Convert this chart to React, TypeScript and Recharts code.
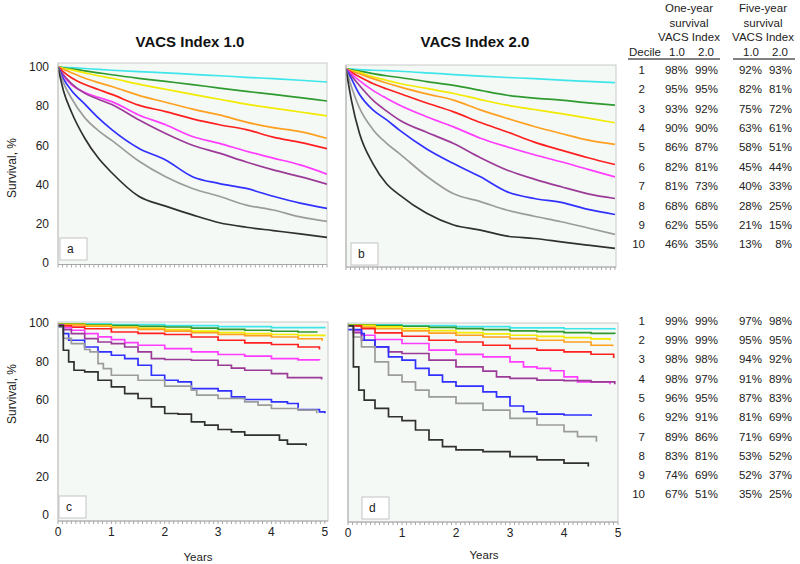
import React from 'react';
import { LineChart, Line, XAxis, YAxis } from 'recharts';

const FONT = '"Liberation Sans", Arial, Helvetica, sans-serif';

// Deciles and their curve colours (1 = lowest risk)
const deciles = [1, 2, 3, 4, 5, 6, 7, 8, 9, 10];
const decileColors = [
  '#3ee6ea', '#2f9a2f', '#f2ea00', '#ffa020', '#ff2020',
  '#ff3cff', '#9c3a98', '#3030ff', '#9c9c9c', '#303030',
];

const yearLabels = ['0', '1', '2', '3', '4', '5'];
const survivalTicks = [0, 20, 40, 60, 80, 100];

// Panel a / b: smooth curves, shared time grid (years)
const yearsAB = [0, 0.1, 0.25, 0.5, 0.75, 1, 1.5, 2, 2.5, 3, 3.5, 4, 4.5, 5];

const survivalA = [
  [100, 99.8, 99.6, 99.2, 98.7, 98.3, 97.6, 97, 96.2, 95.5, 94.7, 94, 93.2, 92.3],
  [100, 99.5, 99, 98, 97, 96, 94.2, 92.6, 91, 89.2, 87.5, 86, 84.3, 82.6],
  [100, 99.3, 98.5, 97, 95.5, 94.2, 91.2, 88.6, 86, 83.5, 81, 79, 77, 75],
  [100, 98.8, 97, 94.2, 92, 90, 85.5, 82, 78.5, 75.5, 71.8, 69, 67, 63.6],
  [100, 97.5, 94.5, 91, 88.5, 86, 80.5, 77.2, 73.5, 70.5, 68, 64.2, 61.5, 58.3],
  [100, 95.5, 91, 87, 84.5, 82.3, 75.5, 70.5, 64.5, 61, 57, 53.5, 50, 45.3],
  [100, 96, 91.5, 86.5, 83.5, 80.8, 73, 66, 60, 56, 51.5, 47.5, 44, 40.2],
  [100, 94, 88, 81, 74, 68, 58.5, 52.5, 44, 40.5, 38, 34, 30.5, 27.8],
  [100, 92, 84, 74, 67.5, 62.5, 52, 44, 38, 34, 29.5, 27, 23.5, 21.2],
  [100, 88, 77, 63.5, 53.5, 46, 34, 29, 24.5, 20.5, 18.2, 16.5, 14.8, 13],
];

const survivalB = [
  [100, 99.9, 99.7, 99.3, 99.1, 98.8, 98, 97.1, 96.3, 95.6, 95, 94.2, 93.6, 93],
  [100, 99.5, 98.9, 97.6, 96.5, 95.6, 93.5, 91.6, 89, 86.5, 85, 84, 82.6, 81.4],
  [100, 99.2, 98.2, 95.9, 94.2, 92.5, 90, 87.4, 84.3, 81.4, 79.2, 77.1, 74.8, 72.4],
  [100, 98.9, 97.5, 95, 92.8, 90.8, 87.2, 84, 79, 74.6, 70.5, 66.9, 63.5, 61.3],
  [100, 98.3, 96, 92.5, 89.8, 87.4, 82.5, 78, 72.5, 67.7, 62.5, 58.4, 54.5, 51],
  [100, 97.5, 94, 89, 85, 81.4, 75.5, 70.3, 64.5, 60, 56, 52.4, 48.5, 44.7],
  [100, 96.5, 91.5, 84, 78.5, 73.7, 67.5, 61.8, 54.5, 48.1, 43.5, 39.6, 36, 33.6],
  [100, 95, 87, 79, 74, 68.5, 59, 51.5, 44.7, 37, 33.6, 31.6, 28, 25.4],
  [100, 91, 80, 69, 62, 56.5, 45, 36, 32, 27.6, 24.5, 21.7, 18.5, 15.2],
  [100, 84, 67, 51.5, 41.3, 35.3, 26, 20, 17.4, 14.3, 13.1, 11.4, 9.7, 8],
];

// Panel c / d: Kaplan-Meier steps, each decile has its own event times
const yearsC = [
  [0, 1, 2, 3, 4, 5],
  [0, 0.5, 1, 1.5, 2, 2.5, 3, 3.5, 4, 4.5, 4.85],
  [0, 0.5, 1, 1.5, 2, 2.5, 3, 3.5, 4, 4.5, 5],
  [0, 0.5, 1, 1.5, 2, 2.5, 3, 3.5, 4, 4.5, 4.95],
  [0, 0.25, 0.5, 1, 1.5, 2, 2.5, 3, 3.5, 4, 4.5, 4.9],
  [0, 0.1, 0.25, 0.5, 0.75, 1, 1.25, 1.5, 2, 2.5, 3, 3.5, 4, 4.5, 4.9],
  [0, 0.1, 0.25, 0.5, 0.75, 1, 1.25, 1.5, 1.75, 2, 2.5, 3, 3.25, 3.5, 4, 4.3, 4.94],
  [0, 0.1, 0.2, 0.5, 0.75, 1, 1.25, 1.5, 1.75, 2, 2.25, 2.5, 3, 3.25, 3.5, 4, 4.3, 4.5, 4.9, 5],
  [0, 0.1, 0.25, 0.5, 0.6, 0.75, 0.85, 1, 1.5, 2, 2.5, 2.6, 3, 3.5, 3.75, 4, 4.5, 4.85],
  [0, 0.1, 0.2, 0.3, 0.5, 0.75, 1, 1.25, 1.5, 1.75, 2, 2.25, 2.5, 2.75, 3, 3.25, 3.5, 4.15, 4.3, 4.65],
];
const survivalC = [
  [99.6, 99.1, 98.6, 98.1, 97.6, 97.1],
  [99.5, 99, 98.6, 98.2, 97.9, 97.3, 96.7, 96.2, 95.7, 95.3, 95],
  [99.3, 98.6, 97.9, 97.2, 96.5, 95.8, 95, 94.5, 94, 93.5, 93.1],
  [99, 98.3, 97.6, 96.7, 95.8, 94.9, 94, 93.4, 92.7, 91.8, 90.7],
  [98.5, 97.8, 97, 95.3, 94.6, 94, 92.7, 91, 89.6, 88.8, 87.5, 86.2],
  [99, 97.5, 96.2, 94.5, 92.8, 91.3, 89.8, 88.4, 86.7, 85, 83.6, 82.7, 81.5, 80.8, 80.6],
  [99, 96.5, 94.5, 91.9, 90.1, 89.3, 87.5, 85, 81.5, 81, 80.6, 78, 76.5, 75.4, 73.7, 71.6, 70.6],
  [98, 94.5, 91, 87.5, 85, 83.2, 81.5, 78, 72.8, 70.2, 69.4, 65.9, 64.7, 61.6, 60.2, 59, 58.1, 55, 53.8, 53],
  [98, 92, 89.3, 86.2, 85, 78.9, 76.3, 72.8, 70.2, 67.1, 65, 62.5, 60.7, 59, 57.3, 55.5, 54.7, 53],
  [98.5, 85.8, 79.8, 75.4, 74.6, 70.2, 66.8, 63.3, 60.7, 56.4, 52.9, 52.6, 48.6, 46.9, 44.6, 43.4, 41.7, 39.1, 37, 36.2],
];

const yearsD = [
  [0, 1, 2, 3, 4, 4.94],
  [0, 0.5, 1, 1.5, 2, 2.5, 3, 3.5, 4, 4.5, 4.94],
  [0, 0.5, 1, 1.5, 2, 2.5, 3, 3.5, 4, 4.5, 4.85],
  [0, 0.25, 0.5, 1, 1.5, 2, 2.5, 3, 3.5, 4, 4.5, 4.9],
  [0, 0.25, 0.5, 1, 1.5, 2, 2.5, 3, 3.5, 4, 4.5, 4.92],
  [0, 0.1, 0.25, 0.5, 1, 1.5, 2, 2.5, 3, 3.25, 3.5, 3.75, 4, 4.25, 4.85],
  [0, 0.1, 0.25, 0.5, 0.75, 1, 1.5, 2, 2.5, 2.75, 3, 3.5, 4, 4.5, 4.94],
  [0, 0.25, 0.3, 0.5, 0.75, 1, 1.25, 1.5, 1.75, 2, 2.5, 2.75, 3, 3.25, 3.5, 4, 4.5],
  [0, 0.1, 0.25, 0.5, 0.75, 1, 1.25, 1.5, 2, 2.5, 3, 3.5, 4, 4.25, 4.6],
  [0, 0.1, 0.2, 0.3, 0.5, 0.75, 1, 1.25, 1.5, 1.75, 2, 2.5, 3, 3.5, 4, 4.45],
];
const survivalD = [
  [99.6, 99.1, 98.6, 98, 97.5, 97],
  [99.5, 99.2, 98.8, 98.2, 97.6, 97, 96.4, 96, 95.5, 95.1, 94.8],
  [99.3, 98.5, 97.6, 96.5, 95.5, 94.8, 94.1, 93.5, 92.9, 92.2, 91.5],
  [99, 98.3, 97.5, 96.4, 95.2, 94.1, 93.2, 92.4, 91.5, 90.6, 88.9, 88.4],
  [99, 97.6, 95.3, 93.6, 91.5, 90.6, 88.9, 87.2, 86.3, 85.4, 84.2, 82.3],
  [99, 96.5, 94.1, 91.9, 89.8, 86.3, 84.1, 82.8, 80.2, 77.6, 76.8, 75.6, 72.4, 69.8, 68.6],
  [99, 95.5, 91.5, 88, 85.4, 84.6, 81.1, 77.6, 75.4, 72.4, 71.6, 70.7, 70.4, 69.8, 68.6],
  [97, 95, 91.5, 88, 82.8, 81.1, 76.8, 73.3, 69.8, 67.6, 64.6, 62, 57.2, 54.2, 53, 52.5, 52],
  [99, 93.2, 88, 80.2, 73.3, 69.8, 65.5, 62, 58.6, 55.1, 50.8, 47.3, 43.8, 41.2, 38.6],
  [99, 77.6, 65.5, 60.3, 56, 51.6, 49.6, 44.7, 39.5, 36, 34.3, 33.4, 30.8, 29.1, 27.4, 25.6],
];

// Survival tables (%), top = panels a/b, bottom = panels c/d
const oneYearV1Top = [98, 95, 93, 90, 86, 82, 81, 68, 62, 46];
const oneYearV2Top = [99, 95, 92, 90, 87, 81, 73, 68, 55, 35];
const fiveYearV1Top = [92, 82, 75, 63, 58, 45, 40, 28, 21, 13];
const fiveYearV2Top = [93, 81, 72, 61, 51, 44, 33, 25, 15, 8];

const oneYearV1Bottom = [99, 99, 98, 98, 96, 92, 89, 83, 74, 67];
const oneYearV2Bottom = [99, 99, 98, 97, 95, 91, 86, 81, 69, 51];
const fiveYearV1Bottom = [97, 95, 94, 91, 87, 81, 71, 53, 52, 35];
const fiveYearV2Bottom = [98, 95, 92, 89, 83, 69, 69, 52, 37, 25];

const AXIS_W = 40;
const AXIS_H = 20;
const PAD = 8; // room above / right of the plot so edge labels are not clipped
const monthTicks = Array.from({ length: 61 }, (_, m) => m / 12);
const minorSurvivalTicks = Array.from({ length: 51 }, (_, k) => k * 2);

interface PanelSpec {
  letter: string;
  left: number;
  top: number;
  width: number;
  height: number;
  xDomain: [number, number];
  yDomain: [number, number];
  times: number[][];
  values: number[][];
  step: boolean;
  yLabels: boolean;
  xLabels: boolean;
  box: [number, number];
}

const panels: PanelSpec[] = [
  {
    letter: 'a', left: 58, top: 63, width: 269, height: 201.5,
    xDomain: [0, 5], yDomain: [-0.8, 102],
    times: deciles.map(() => yearsAB), values: survivalA,
    step: false, yLabels: true, xLabels: false, box: [60, 238],
  },
  {
    letter: 'b', left: 346, top: 65, width: 270, height: 202,
    xDomain: [0, 5.02], yDomain: [-1.5, 102],
    times: deciles.map(() => yearsAB), values: survivalB,
    step: false, yLabels: false, xLabels: false, box: [351, 243],
  },
  {
    letter: 'c', left: 58, top: 322, width: 270, height: 199,
    xDomain: [0, 5.06], yDomain: [-3, 100.5],
    times: yearsC, values: survivalC,
    step: true, yLabels: true, xLabels: true, box: [59, 496],
  },
  {
    letter: 'd', left: 348, top: 323, width: 270, height: 199,
    xDomain: [0, 5], yDomain: [-3.3, 100.5],
    times: yearsD, values: survivalD,
    step: true, yLabels: false, xLabels: true, box: [362, 497],
  },
];

const YearTick = (props: any) => {
  const { x, y, payload, show } = props;
  const v = payload.value;
  if (!show || !Number.isInteger(v)) return <g />;
  return (
    <text x={x} y={y} dy="0.71em" textAnchor="middle" fontSize={12} fontFamily={FONT} fill="#222">
      {yearLabels[v]}
    </text>
  );
};

const SurvivalPanel: React.FC<{ spec: PanelSpec }> = ({ spec }) => (
  <div style={{ position: 'absolute', left: spec.left - AXIS_W, top: spec.top - PAD }}>
    <LineChart
      width={spec.width + AXIS_W + PAD}
      height={spec.height + AXIS_H + PAD}
      margin={{ top: PAD, right: PAD, bottom: 0, left: 0 }}
    >
      <XAxis
        type="number"
        dataKey="t"
        domain={spec.xDomain}
        allowDataOverflow
        ticks={monthTicks}
        interval={0}
        height={AXIS_H}
        stroke="#a8a8a8"
        tickSize={3}
        tickMargin={3}
        tick={(p: any) => <YearTick {...p} show={spec.xLabels} />}
      />
      {spec.yLabels ? (
        <YAxis
          type="number"
          domain={spec.yDomain}
          allowDataOverflow
          ticks={survivalTicks}
          interval={0}
          width={AXIS_W}
          stroke="#c8c8c8"
          tickLine={false}
          tickSize={4}
          tickMargin={5}
          tick={{ fill: '#222', fontSize: 12, fontFamily: FONT }}
        />
      ) : (
        <YAxis
          type="number"
          domain={spec.yDomain}
          allowDataOverflow
          ticks={minorSurvivalTicks}
          interval={0}
          width={AXIS_W}
          stroke="#b0b0b0"
          tickSize={2}
          tick={false}
        />
      )}
      {deciles.map((d, i) => (
        <Line
          key={d}
          data={spec.times[i].map((t, j) => ({ t, s: spec.values[i][j] }))}
          dataKey="s"
          type={spec.step ? 'stepAfter' : 'monotone'}
          stroke={decileColors[i]}
          strokeWidth={1.7}
          dot={false}
          activeDot={false}
          isAnimationActive={false}
        />
      ))}
    </LineChart>
  </div>
);

const valueCols = [688, 718, 762, 792];

const SurvivalTable: React.FC<{ firstRow: number; rowGap: number; cols: number[][] }> = ({ firstRow, rowGap, cols }) => (
  <g fontFamily={FONT} fontSize={11.5} fill="#222">
    {deciles.map((d, i) => {
      const y = firstRow + i * rowGap + 4;
      return (
        <g key={d}>
          <text x={645} y={y} textAnchor="end">{d}</text>
          {cols.map((col, c) => (
            <text key={c} x={valueCols[c]} y={y} textAnchor="end">{col[i]}%</text>
          ))}
        </g>
      );
    })}
  </g>
);

const App: React.FC = () => (
  <div style={{ position: 'absolute', left: 0, top: 0, width: 800, height: 564, background: '#fff', overflow: 'hidden' }}>
    <svg width={800} height={564} style={{ position: 'absolute', left: 0, top: 0 }}>
      {panels.map((p) => (
        <rect key={p.letter} x={p.left} y={p.top} width={p.width} height={p.height} fill="#f4f9f5" stroke="#cacaca" strokeWidth={1} />
      ))}
    </svg>

    {panels.map((p) => (
      <SurvivalPanel key={p.letter} spec={p} />
    ))}

    <svg width={800} height={564} style={{ position: 'absolute', left: 0, top: 0, pointerEvents: 'none' }}>
      <g fontFamily={FONT} fontWeight="bold" fontSize={15} fill="#111" textAnchor="middle">
        <text x={190} y={47}>VACS Index 1.0</text>
        <text x={475} y={47}>VACS Index 2.0</text>
      </g>

      <g fontFamily={FONT} fontSize={12} fill="#222" textAnchor="middle">
        <text x={12} y={168} transform="rotate(-90 12 168)" dominantBaseline="central">Survival, %</text>
        <text x={12} y={394} transform="rotate(-90 12 394)" dominantBaseline="central">Survival, %</text>
      </g>
      <g fontFamily={FONT} fontSize={11.5} fill="#222" textAnchor="middle">
        <text x={198} y={561}>Years</text>
        <text x={484} y={559}>Years</text>
      </g>

      {panels.map((p) => (
        <g key={p.letter}>
          <rect x={p.box[0]} y={p.box[1]} width={27} height={22} fill="#fff" stroke="#c4c4c4" />
          <text x={p.box[0] + 7} y={p.box[1] + 15} fontFamily={FONT} fontSize={12} fill="#222">{p.letter}</text>
        </g>
      ))}

      <g fontFamily={FONT} fontSize={11.5} fill="#222" textAnchor="middle">
        <text x={689} y={12}>One-year</text>
        <text x={689} y={26.5}>survival</text>
        <text x={689} y={40.5}>VACS Index</text>
        <text x={763} y={12}>Five-year</text>
        <text x={763} y={26.5}>survival</text>
        <text x={763} y={40.5}>VACS Index</text>
        <text x={629} y={55.5} textAnchor="start">Decile</text>
        <text x={677} y={55.5}>1.0</text>
        <text x={706} y={55.5}>2.0</text>
        <text x={751} y={55.5}>1.0</text>
        <text x={780} y={55.5}>2.0</text>
      </g>
      <line x1={628} x2={720} y1={59} y2={59} stroke="#808080" strokeWidth={2} />
      <line x1={733} x2={795} y1={59} y2={59} stroke="#808080" strokeWidth={2} />

      <SurvivalTable firstRow={70} rowGap={19.37} cols={[oneYearV1Top, oneYearV2Top, fiveYearV1Top, fiveYearV2Top]} />
      <SurvivalTable firstRow={320.7} rowGap={19.3} cols={[oneYearV1Bottom, oneYearV2Bottom, fiveYearV1Bottom, fiveYearV2Bottom]} />
    </svg>
  </div>
);

export default App;
